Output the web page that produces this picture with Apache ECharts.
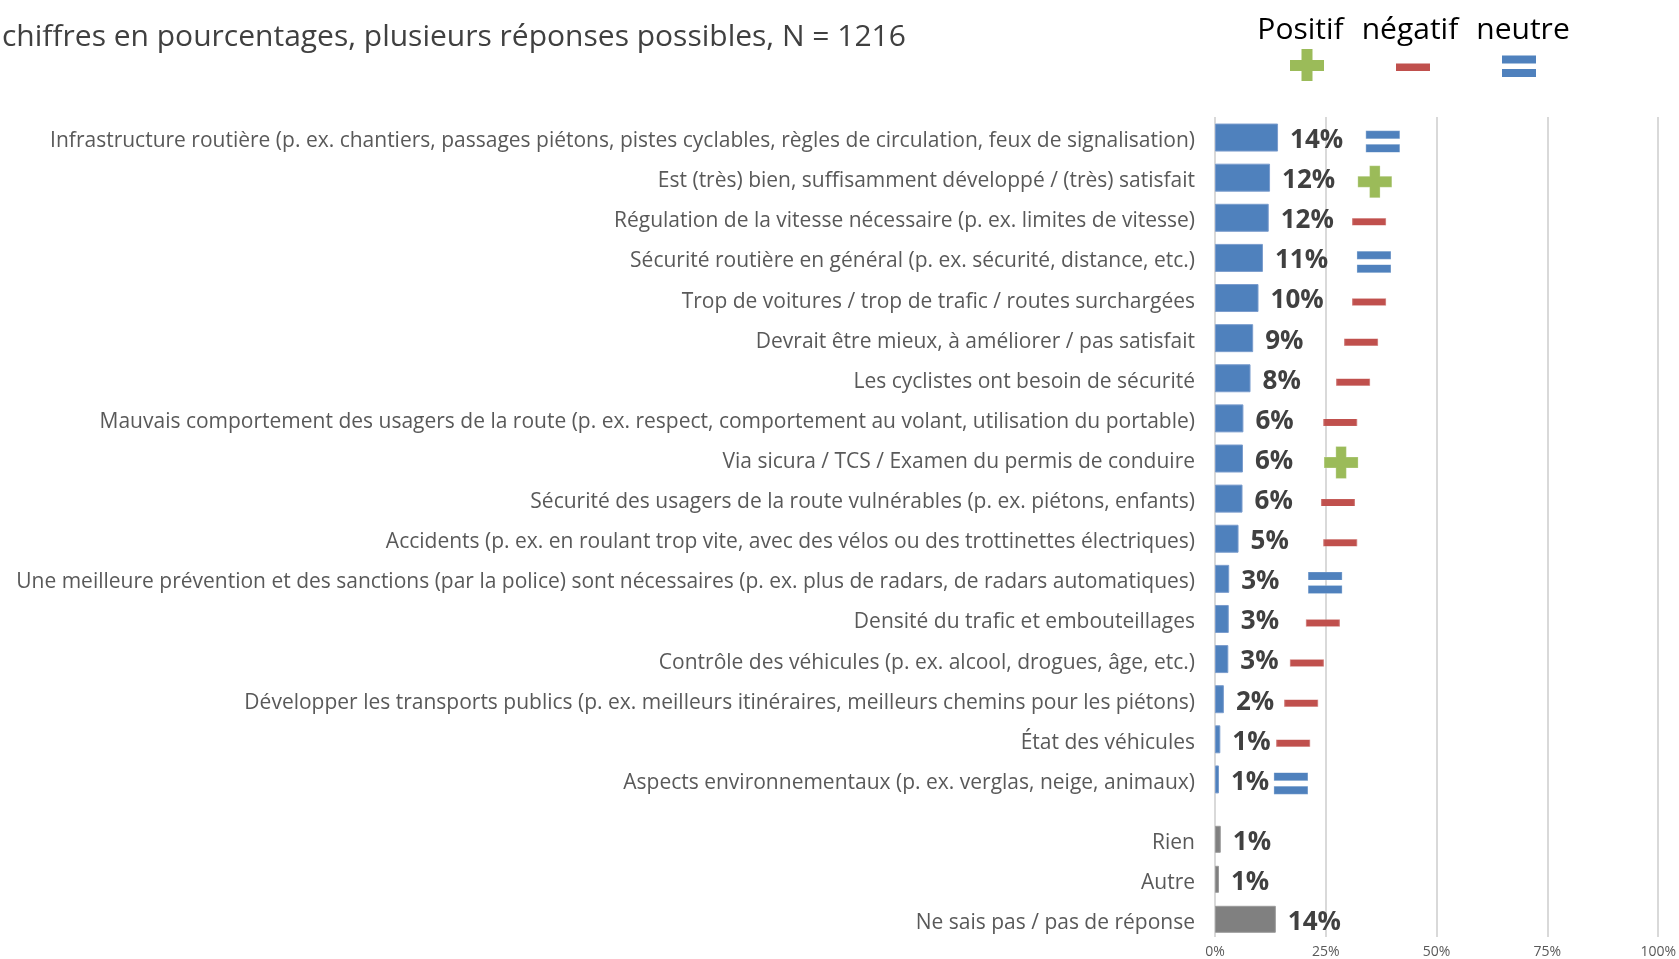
<!DOCTYPE html>
<html>
<head>
<meta charset="utf-8">
<script src="https://cdn.jsdelivr.net/npm/echarts@6/dist/echarts.min.js"></script>
<style>
html,body{margin:0;padding:0;background:#fff;}
#chart{width:1679px;height:959px;}
</style>
</head>
<body>
<div id="chart"></div>
<script>
// ---------- data ----------
var titleText = 'chiffres en pourcentages, plusieurs réponses possibles, N = 1216';
var categories = [
  'Infrastructure routière (p. ex. chantiers, passages piétons, pistes cyclables, règles de circulation, feux de signalisation)',
  'Est (très) bien, suffisamment développé / (très) satisfait',
  'Régulation de la vitesse nécessaire (p. ex. limites de vitesse)',
  'Sécurité routière en général (p. ex. sécurité, distance, etc.)',
  'Trop de voitures / trop de trafic / routes surchargées',
  'Devrait être mieux, à améliorer / pas satisfait',
  'Les cyclistes ont besoin de sécurité',
  'Mauvais comportement des usagers de la route (p. ex. respect, comportement au volant, utilisation du portable)',
  'Via sicura / TCS / Examen du permis de conduire',
  'Sécurité des usagers de la route vulnérables (p. ex. piétons, enfants)',
  'Accidents (p. ex. en roulant trop vite, avec des vélos ou des trottinettes électriques)',
  'Une meilleure prévention et des sanctions (par la police) sont nécessaires (p. ex. plus de radars, de radars automatiques)',
  'Densité du trafic et embouteillages',
  'Contrôle des véhicules (p. ex. alcool, drogues, âge, etc.)',
  'Développer les transports publics (p. ex. meilleurs itinéraires, meilleurs chemins pour les piétons)',
  'État des véhicules',
  'Aspects environnementaux (p. ex. verglas, neige, animaux)'
];
var values = [14.2, 12.4, 12.1, 10.8, 9.8, 8.6, 8.0, 6.4, 6.3, 6.2, 5.3, 3.2, 3.1, 3.0, 2.0, 1.2, 0.9];
var tone = ['neutre','positif','negatif','neutre','negatif','negatif','negatif','negatif','positif','negatif','negatif','neutre','negatif','negatif','negatif','negatif','neutre'];
var toneX = [37.8, 36.0, 34.7, 35.8, 34.7, 32.9, 31.1, 28.2, 28.4, 27.7, 28.2, 24.8, 24.3, 20.7, 19.4, 17.6, 17.1];
var otherCategories = ['Rien', 'Autre', 'Ne sais pas / pas de réponse'];
var otherValues = [1.3, 0.9, 13.7];
var legendNames = ['Positif', 'négatif', 'neutre'];
var xTicks = [0, 25, 50, 75, 100];

// ---------- styles ----------
var FONT = '"Open Sans", "Noto Sans", sans-serif';
var BLUE = '#4F81BD', GREEN = '#9BBB59', RED = '#C0504D', GREY = '#808080';
var shapes = {
  positif: {symbol: 'path://M11.75,0H22.25V10.5H34V21.5H22.25V32H11.75V21.5H0V10.5H11.75Z', size: [34, 32], color: GREEN},
  negatif: {symbol: 'rect', size: [34, 7], color: RED},
  neutre: {symbol: 'path://M0,0H34V8H0ZM0,13.5H34V21.5H0Z', size: [34, 21.5], color: BLUE}
};

var L = 1215, W = 444;
var chart = echarts.init(document.getElementById('chart'), null, {renderer: 'canvas'});

var labelStyle = {
  show: true, position: 'right', distance: 12, offset: [0, 3],
  fontFamily: FONT, fontWeight: 'bold', fontSize: 26, color: '#404040',
  formatter: function (p) { return Math.round(p.value) + '%'; }
};
var catLabel = {fontFamily: FONT, fontSize: 21, color: '#595959', margin: 20,
                verticalAlign: 'top', lineHeight: 7};

var toneData = toneX.map(function (x, i) {
  var s = shapes[tone[i]];
  return {value: [x, categories[i]], symbol: s.symbol, symbolSize: s.size,
          itemStyle: {color: s.color, opacity: 1, borderColor: 'rgba(255,255,255,0.25)', borderWidth: 1}};
});

var graphics = [];
var legendX = [1300.5, 1410, 1523];
legendNames.forEach(function (n, i) {
  graphics.push({type: 'text', x: legendX[i], y: 15,
    style: {text: n, font: '30px ' + FONT, fill: '#000', align: 'center', verticalAlign: 'top'}});
});
// legend icons
graphics.push({type: 'rect', shape: {x: 1301.5, y: 49, width: 11, height: 32}, style: {fill: GREEN}});
graphics.push({type: 'rect', shape: {x: 1290, y: 60, width: 34, height: 11}, style: {fill: GREEN}});
graphics.push({type: 'rect', shape: {x: 1396, y: 63.5, width: 34, height: 7.5}, style: {fill: RED}});
graphics.push({type: 'rect', shape: {x: 1502, y: 55.5, width: 34, height: 8}, style: {fill: BLUE}});
graphics.push({type: 'rect', shape: {x: 1502, y: 69, width: 34, height: 8}, style: {fill: BLUE}});

var option = {
  backgroundColor: '#fff',
  animation: false,
  title: {
    text: titleText, left: 2, top: 22, padding: 0,
    textStyle: {fontFamily: FONT, fontSize: 30, fontWeight: 'normal', color: '#404040'}
  },
  graphic: graphics,
  grid: [
    {left: L, width: W, top: 117, bottom: 21},
    {left: L, width: W, top: 117.5, height: 682},
    {left: L, width: W, top: 819.3, height: 120}
  ],
  xAxis: [
    {gridIndex: 0, type: 'value', min: xTicks[0], max: xTicks[xTicks.length - 1], interval: 25,
     axisLine: {show: false}, axisTick: {show: false},
     splitLine: {show: true, lineStyle: {color: '#D9D9D9', width: 2}},
     axisLabel: {fontFamily: FONT, fontSize: 14, color: '#595959', margin: 8, formatter: '{value}%'}},
    {gridIndex: 1, type: 'value', min: 0, max: 100, show: false},
    {gridIndex: 2, type: 'value', min: 0, max: 100, show: false}
  ],
  yAxis: [
    {gridIndex: 0, type: 'value', show: false},
    {gridIndex: 1, type: 'category', data: categories, inverse: true,
     axisLine: {show: false}, axisTick: {show: false}, axisLabel: catLabel},
    {gridIndex: 2, type: 'category', data: otherCategories, inverse: true,
     axisLine: {show: false}, axisTick: {show: false}, axisLabel: catLabel}
  ],
  series: [
    {type: 'bar', xAxisIndex: 1, yAxisIndex: 1, data: values, barWidth: 28,
     itemStyle: {color: BLUE, borderColor: '#7A9CCD', borderWidth: 1}, label: labelStyle},
    {type: 'bar', xAxisIndex: 2, yAxisIndex: 2, data: otherValues, barWidth: 27,
     itemStyle: {color: GREY, borderColor: '#9A9A9A', borderWidth: 1}, label: labelStyle},
    {type: 'scatter', xAxisIndex: 1, yAxisIndex: 1, data: toneData, symbolOffset: [0, 4], z: 5}
  ]
};
chart.setOption(option);
</script>
</body>
</html>
